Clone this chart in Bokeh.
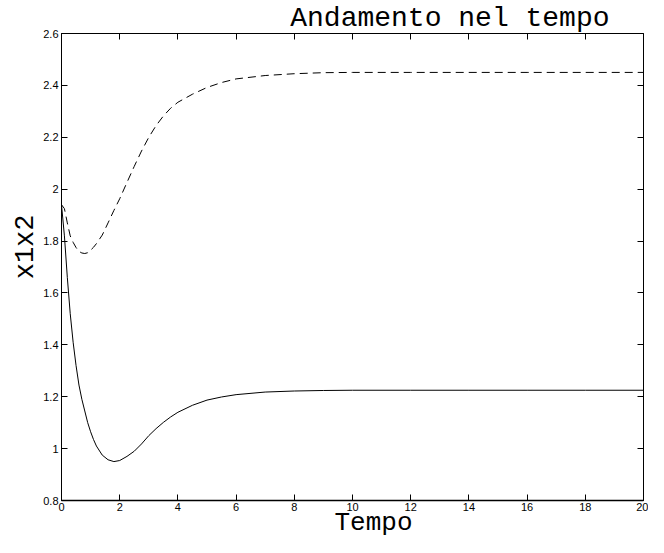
from bokeh.plotting import figure
from bokeh.models import Range1d, LinearAxis, FixedTicker, Title, CustomJSTickFormatter
from bokeh.embed import file_html
from bokeh.resources import INLINE

# ---- data ----
t = [0, 0.1, 0.2, 0.3, 0.4, 0.5, 0.6, 0.7, 0.8, 0.9, 1.0, 1.1, 1.2, 1.4, 1.6,
     1.8, 2.0, 2.25, 2.5, 2.75, 3.0, 3.25, 3.5, 3.75, 4.0, 4.5, 5.0, 5.5, 6.0,
     7.0, 8.0, 9.0, 10, 12, 14, 16, 18, 20]
x1 = [1.94, 1.82, 1.66, 1.52, 1.41, 1.32, 1.245, 1.19, 1.145, 1.10, 1.065,
      1.035, 1.01, 0.975, 0.957, 0.95, 0.954, 0.97, 0.99, 1.018, 1.05, 1.077,
      1.101, 1.122, 1.14, 1.167, 1.187, 1.199, 1.208, 1.218, 1.222, 1.224,
      1.225, 1.225, 1.225, 1.225, 1.225, 1.225]
x2 = [1.94, 1.925, 1.87, 1.82, 1.795, 1.775, 1.76, 1.754, 1.752, 1.755, 1.765,
      1.776, 1.79, 1.823, 1.87, 1.918, 1.963, 2.026, 2.088, 2.147, 2.2, 2.245,
      2.282, 2.312, 2.335, 2.366, 2.392, 2.411, 2.425, 2.438, 2.445, 2.449,
      2.45, 2.45, 2.45, 2.45, 2.45, 2.45]

x_ticks = [0, 2, 4, 6, 8, 10, 12, 14, 16, 18, 20]
y_ticks = [0.8, 1.0, 1.2, 1.4, 1.6, 1.8, 2.0, 2.2, 2.4, 2.6]
y_tick_labels = ["0.8", "1", "1.2", "1.4", "1.6", "1.8", "2", "2.2", "2.4", "2.6"]

title_text = "Andamento nel tempo"
x_label = "Tempo"
y_label = "x1x2"

MONO = "Liberation Mono"
SANS = "Liberation Sans"

p = figure(width=648, height=537, output_backend="svg", toolbar_location=None,
           x_range=Range1d(0, 20), y_range=Range1d(0.8, 2.6),
           x_axis_type=None, y_axis_type=None,
           min_border_left=61, min_border_right=5, min_border_top=33,
           min_border_bottom=37)
p.xgrid.visible = False
p.ygrid.visible = False
p.outline_line_color = "black"
p.outline_line_width = 1
p.background_fill_color = "white"
p.border_fill_color = "white"

# title (top, right-aligned like the reference)
p.title.text = title_text
p.title.text_font = MONO
p.title.text_font_size = "28px"
p.title.text_font_style = "normal"
p.title.text_color = "black"
p.title.align = "right"
p.title.offset = 34
p.title.standoff = 0

blank = CustomJSTickFormatter(code="return ''")

def style_axis(ax, show_labels):
    ax.major_tick_in = 6
    ax.major_tick_out = 0
    ax.minor_tick_line_color = None
    ax.axis_line_color = "black"
    ax.major_tick_line_color = "black"
    ax.major_label_text_font = SANS
    ax.major_label_text_color = "black"
    if show_labels:
        ax.major_label_text_font_size = "11px"
        ax.major_label_standoff = 3
    else:
        ax.formatter = blank
        ax.axis_line_color = None
        ax.major_label_text_font_size = "1px"
        ax.major_label_standoff = 0

xb = LinearAxis(ticker=FixedTicker(ticks=x_ticks))
style_axis(xb, True)
xb.axis_line_width = 1.5
xb.major_label_standoff = 2
p.add_layout(xb, "below")
p.add_layout(Title(text=x_label, text_font=MONO, text_font_size="26px",
                   text_font_style="normal", text_color="black",
                   align="left", offset=273, standoff=-11,
                   vertical_align="top"), "below")

xt = LinearAxis(ticker=FixedTicker(ticks=x_ticks))
style_axis(xt, False)
p.add_layout(xt, "above")

yl = LinearAxis(ticker=FixedTicker(ticks=y_ticks))
style_axis(yl, True)
yl.major_label_overrides = {v: s for v, s in zip(y_ticks, y_tick_labels)}
p.add_layout(yl, "left")
p.add_layout(Title(text=y_label, text_font=MONO, text_font_size="27px",
                   text_font_style="normal", text_color="black",
                   align="right", offset=181, standoff=0), "left")

yr = LinearAxis(ticker=FixedTicker(ticks=y_ticks))
style_axis(yr, False)
p.add_layout(yr, "right")

p.line(t, x1, line_color="black", line_width=1)
p.line(t, x2, line_color="black", line_width=1, line_dash="8 5")

open("out.html", "w").write(file_html(p, INLINE))
